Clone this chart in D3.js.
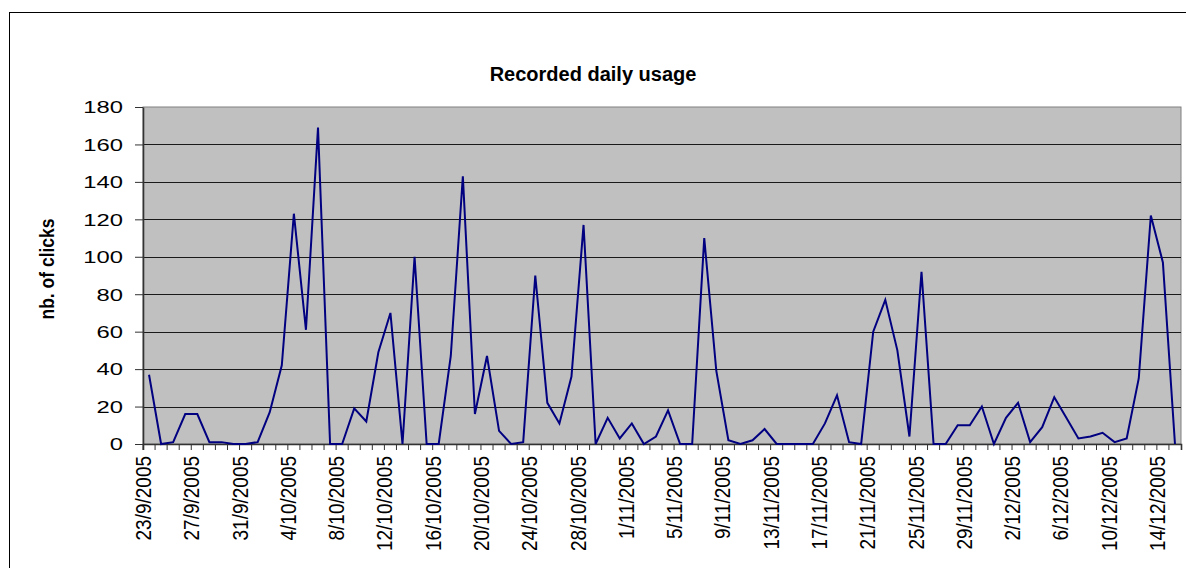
<!DOCTYPE html>
<html>
<head>
<meta charset="utf-8">
<script src="https://cdn.jsdelivr.net/npm/d3@7"></script>
<style>
  html, body { margin: 0; padding: 0; background: #fff; }
  svg { display: block; font-family: "Liberation Sans", Arial, sans-serif; }
</style>
</head>
<body>
<svg id="chart" width="1186" height="568"></svg>
<script>
// Daily labels as entered in the sheet (every month carries 31 entries)
const septDays = ["23/9/2005","24/9/2005","25/9/2005","26/9/2005","27/9/2005","28/9/2005","29/9/2005","30/9/2005","31/9/2005"];
const octDays = ["1/10/2005","2/10/2005","3/10/2005","4/10/2005","5/10/2005","6/10/2005","7/10/2005","8/10/2005","9/10/2005","10/10/2005",
  "11/10/2005","12/10/2005","13/10/2005","14/10/2005","15/10/2005","16/10/2005","17/10/2005","18/10/2005","19/10/2005","20/10/2005",
  "21/10/2005","22/10/2005","23/10/2005","24/10/2005","25/10/2005","26/10/2005","27/10/2005","28/10/2005","29/10/2005","30/10/2005","31/10/2005"];
const novDays = ["1/11/2005","2/11/2005","3/11/2005","4/11/2005","5/11/2005","6/11/2005","7/11/2005","8/11/2005","9/11/2005","10/11/2005",
  "11/11/2005","12/11/2005","13/11/2005","14/11/2005","15/11/2005","16/11/2005","17/11/2005","18/11/2005","19/11/2005","20/11/2005",
  "21/11/2005","22/11/2005","23/11/2005","24/11/2005","25/11/2005","26/11/2005","27/11/2005","28/11/2005","29/11/2005","30/11/2005","31/11/2005"];
const decDays = ["1/12/2005","2/12/2005","3/12/2005","4/12/2005","5/12/2005","6/12/2005","7/12/2005","8/12/2005","9/12/2005","10/12/2005",
  "11/12/2005","12/12/2005","13/12/2005","14/12/2005","15/12/2005"];
const categories = septDays.concat(octDays, novDays, decDays);

// Recorded clicks per day
const septClicks = [37, 0, 1, 16, 16, 1, 1, 0, 0];
const octClicks = [1, 17, 42, 123, 61, 169, 0, 0, 19, 12,
  49, 70, 0, 100, 0, 0, 47, 143, 16, 47,
  7, 0, 1, 90, 22, 11, 36, 117, 0, 14, 3];
const novClicks = [11, 0, 4, 18, 0, 0, 110, 39, 2, 0,
  2, 8, 0, 0, 0, 0, 11, 26, 1, 0,
  60, 77, 50, 4, 92, 0, 0, 10, 10, 20, 0];
const decClicks = [14, 22, 1, 9, 25, 14, 3, 4, 6, 1, 3, 35, 122, 97, 0];
const clicks = septClicks.concat(octClicks, novClicks, decClicks);

const yTicks = [0, 20, 40, 60, 80, 100, 120, 140, 160, 180];
const labelEvery = 4;

const svg = d3.select("#chart");
const plot = { left: 143, right: 1181, top: 107, bottom: 444 };

// outer chart frame
svg.append("rect")
  .attr("x", 9.5).attr("y", 12.5)
  .attr("width", 1300).attr("height", 700)
  .attr("fill", "#fff").attr("stroke", "#000").attr("stroke-width", 1);

const x = d3.scaleBand().domain(categories).range([plot.left, plot.right]).padding(0);
const y = d3.scaleLinear().domain([0, 180]).range([plot.bottom, plot.top]);
const bw = x.bandwidth();

// plot area
svg.append("rect")
  .attr("x", plot.left).attr("y", plot.top)
  .attr("width", plot.right - plot.left).attr("height", plot.bottom - plot.top)
  .attr("fill", "#c0c0c0").attr("stroke", "#808080").attr("stroke-width", 1);

// horizontal gridlines
svg.append("g").selectAll("line")
  .data(yTicks.filter(v => v > 0 && v < 180))
  .join("line")
  .attr("x1", plot.left).attr("x2", plot.right)
  .attr("y1", d => Math.round(y(d)) + 0.5).attr("y2", d => Math.round(y(d)) + 0.5)
  .attr("stroke", "#1a1a1a").attr("stroke-width", 1);

// y axis
const yAxis = svg.append("g")
  .attr("transform", `translate(${plot.left},0)`)
  .call(d3.axisLeft(y).tickValues(yTicks).tickSize(8).tickSizeOuter(0).tickFormat(d3.format("d")));
yAxis.select(".domain").attr("stroke", "#333").attr("stroke-width", 1.6);
yAxis.selectAll(".tick line").attr("stroke", "#333");
yAxis.selectAll(".tick text")
  .attr("x", null).attr("dy", "0.36em")
  .attr("transform", "translate(-20,0) scale(1.46,1)")
  .attr("text-anchor", "end")
  .attr("fill", "#000")
  .style("font-size", "16.3px")
  .style("font-family", "'Liberation Sans', Arial, sans-serif");

// x axis: tick marks between categories, labels every fourth day
const xAxis = svg.append("g")
  .attr("transform", `translate(0,${plot.bottom})`)
  .call(d3.axisBottom(x).tickSize(6).tickSizeOuter(6)
    .tickFormat((d, i) => i % labelEvery === 0 ? d : ""));
xAxis.select(".domain").attr("stroke", "#333").attr("stroke-width", 1.6);
xAxis.selectAll(".tick line")
  .attr("x1", -bw / 2).attr("x2", -bw / 2)
  .attr("stroke", "#333");
xAxis.selectAll(".tick text")
  .attr("x", null).attr("y", null).attr("dy", null)
  .attr("transform", "translate(2,12) rotate(-90) scale(1,1.12)")
  .attr("text-anchor", "end")
  .attr("fill", "#000")
  .style("font-size", "19px")
  .style("font-family", "'Liberation Sans', Arial, sans-serif");

// series line
const line = d3.line()
  .x((d, i) => x(categories[i]) + bw / 2)
  .y(d => y(d));
svg.append("path")
  .datum(clicks)
  .attr("d", line)
  .attr("fill", "none")
  .attr("stroke", "#000080")
  .attr("stroke-width", 2)
  .attr("stroke-linejoin", "miter");

// title
svg.append("text")
  .attr("x", 593).attr("y", 81)
  .attr("text-anchor", "middle")
  .style("font-size", "20px").style("font-weight", "bold")
  .text("Recorded daily usage");

// y axis title
svg.append("text")
  .attr("transform", "translate(54.3,269) rotate(-90) scale(1,1.17)")
  .attr("text-anchor", "middle")
  .style("font-size", "17.5px").style("font-weight", "bold")
  .text("nb. of clicks");
</script>
</body>
</html>
